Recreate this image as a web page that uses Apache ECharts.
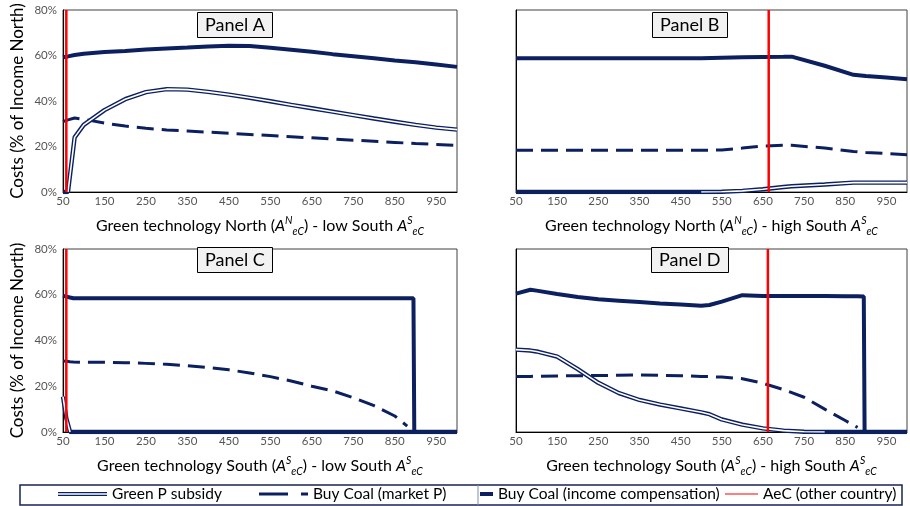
<!DOCTYPE html>
<html><head><meta charset="utf-8">
<script src="https://cdn.jsdelivr.net/npm/echarts@6.0.0/dist/echarts.min.js"></script>
<style>html,body{margin:0;padding:0;background:#fff}#c{width:910px;height:506px}</style>
</head><body><div id="c"></div>
<script>
// ---------- data ----------
const yTicks = [0, 20, 40, 60, 80];
const seriesNames = ['Green P subsidy', 'Buy Coal (market P)', 'Buy Coal (income compensation)', 'AeC (other country)'];
const panelTitles = ['Panel A', 'Panel B', 'Panel C', 'Panel D'];

// Panel A
const xA      = [50, 62, 78, 100, 150, 200, 250, 300, 350, 400, 450, 500, 550, 600, 650, 700, 750, 800, 850, 900, 950, 1000];
const greenA  = [0, 0, 24, 29.5, 36, 40.8, 43.9, 45.2, 45, 44, 42.8, 41.4, 39.9, 38.3, 36.8, 35.3, 33.8, 32.3, 30.9, 29.5, 28.3, 27.4];
const marketA = [31, 31.7, 32.5, 32, 30.3, 29, 28, 27.3, 26.8, 26.3, 25.8, 25.3, 24.8, 24.3, 23.8, 23.3, 22.8, 22.3, 21.8, 21.3, 20.9, 20.5];
const incomeA = [59.2, 59.6, 60.2, 60.8, 61.5, 62, 62.6, 63.1, 63.5, 64, 64.3, 64.2, 63.4, 62.5, 61.6, 60.6, 59.7, 58.8, 57.8, 57, 56, 55];
const aecA = 58;

// Panel B
const xB      = [50, 100, 200, 300, 400, 500, 550, 600, 650, 700, 720, 800, 870, 900, 950, 1000];
const greenB  = [0, 0, 0, 0, 0, 0, 0.1, 0.5, 1.2, 2.2, 2.5, 3.3, 4.1, 4.1, 4.1, 4.1];
const marketB = [18.3, 18.3, 18.3, 18.3, 18.3, 18.3, 18.5, 19.3, 20.2, 20.6, 20.5, 19.3, 17.8, 17.4, 16.9, 16.4];
const incomeB = [58.8, 58.8, 58.8, 58.8, 58.8, 58.8, 59, 59.2, 59.3, 59.4, 59.5, 55.5, 51.5, 51, 50.3, 49.6];
const aecB = 664;

// Panel C
const xC      = [50, 58, 67, 75, 100, 150, 200, 250, 300, 350, 400, 450, 500, 550, 600, 650, 700, 750, 800, 850, 880, 895, 897, 950, 1000];
const greenC  = [15.5, 6, 0, 0, 0, 0, 0, 0, 0, 0, 0, 0, 0, 0, 0, 0, 0, 0, 0, 0, 0, 0, 0, 0, 0];
const marketC = [31, 30.9, 30.7, 30.6, 30.5, 30.5, 30.3, 30, 29.6, 29, 28.2, 27.2, 25.8, 24.2, 22.3, 20, 18, 15, 11.5, 7, 2.6, null, null, null, null];
const incomeC = [59.5, 59.2, 58.8, 58.5, 58.5, 58.5, 58.5, 58.5, 58.5, 58.5, 58.5, 58.5, 58.5, 58.5, 58.5, 58.5, 58.5, 58.5, 58.5, 58.5, 58.5, 58.5, 0, 0, 0];
const aecC = 58;

// Panel D
const xD      = [50, 85, 100, 150, 200, 250, 300, 350, 400, 450, 500, 520, 550, 600, 650, 700, 750, 800, 850, 880, 895, 897, 950, 1000];
const greenD  = [36, 35.6, 35.2, 33, 27.5, 21.5, 17, 14, 12, 10.3, 8.6, 7.8, 5.5, 3.2, 1.6, 0.6, 0.1, 0, 0, 0, 0, 0, 0, 0];
const marketD = [24.3, 24.3, 24.4, 24.5, 24.6, 24.7, 24.8, 24.9, 24.8, 24.6, 24.3, 24.2, 24, 23.3, 21.3, 18.5, 15.2, 10, 5, 2, null, null, null, null];
const incomeD = [60.5, 62.2, 61.8, 60.3, 59, 58, 57.4, 56.8, 56.2, 55.7, 55.2, 55.5, 57, 59.8, 59.5, 59.5, 59.4, 59.4, 59.3, 59.3, 59.2, 0, 0, 0];
const aecD = 662;

const xNames = [
  'Green technology North ({it|A}{sup|N}{sub|eC}) - low South {it|A}{sup|S}{sub|eC}',
  'Green technology North ({it|A}{sup|N}{sub|eC}) - high South {it|A}{sup|S}{sub|eC}',
  'Green technology South ({it|A}{sup|S}{sub|eC}) - low South {it|A}{sup|S}{sub|eC}',
  'Green technology South ({it|A}{sup|S}{sub|eC}) - high South {it|A}{sup|S}{sub|eC}'
];
const yName = 'Costs (% of Income North)';

// ---------- styling ----------
const NAVY = '#0c2060';
const RED = '#ff0000';
const FONT = 'Lato';
const grids = [
  {left: 63, top: 10, width: 394, height: 182},
  {left: 516, top: 10, width: 393, height: 182},
  {left: 63, top: 249, width: 394, height: 183},
  {left: 516, top: 249, width: 393, height: 183}
];
const titlePos = [[197, 12], [652, 12], [197, 247], [651, 247]];

function pairs(x, y) { return x.map((v, i) => [v, y[i]]); }
// white core of the double line: dropped where the line lies flat on the zero axis
function innerOf(y) {
  return y.map((v, i) => (v === 0 && (i === 0 || y[i - 1] === 0) && (i === y.length - 1 || y[i + 1] === 0)) ? null : v);
}

const rich = {
  it: {fontStyle: 'italic', fontSize: 16, fontFamily: FONT, color: '#000', lineHeight: 22},
  sup: {fontStyle: 'italic', fontSize: 10.5, fontFamily: FONT, color: '#000', lineHeight: 12, verticalAlign: 'top'},
  sub: {fontStyle: 'italic', fontSize: 10.5, fontFamily: FONT, color: '#000', lineHeight: 12, verticalAlign: 'bottom'}
};

const xAxes = grids.map((g, i) => ({
  type: 'value', gridIndex: i, min: 50, max: 1000, interval: 50,
  axisLine: {show: true, lineStyle: {color: '#000', width: 1}},
  axisTick: {show: false}, splitLine: {show: false},
  axisLabel: {
    color: '#555555', fontSize: 11.5, fontFamily: FONT, margin: 3,
    formatter: v => ((v - 50) % 100 === 0 && v < 1000) ? String(v) : ''
  },
  name: xNames[i], nameLocation: 'middle', nameGap: 23,
  nameTextStyle: {fontSize: 16, fontFamily: FONT, color: '#000', lineHeight: 22, rich: rich}
}));

const yAxes = grids.map((g, i) => ({
  type: 'value', gridIndex: i, min: yTicks[0], max: yTicks[yTicks.length - 1], interval: 20,
  axisLine: {show: true, lineStyle: {color: '#000', width: 1}},
  axisTick: {show: false}, splitLine: {show: false},
  axisLabel: {show: i % 2 === 0, color: '#555555', fontSize: 11.5, fontFamily: FONT, margin: 6, formatter: '{value}%'},
  name: i % 2 === 0 ? yName : '', nameLocation: 'middle', nameGap: 37, nameRotate: 90,
  nameTextStyle: {fontSize: 17, fontFamily: FONT, color: '#000'}
}));

const panels = [
  [xA, greenA, marketA, incomeA, aecA],
  [xB, greenB, marketB, incomeB, aecB],
  [xC, greenC, marketC, incomeC, aecC],
  [xD, greenD, marketD, incomeD, aecD]
];

const series = [];
panels.forEach((p, i) => {
  const [x, green, market, income, aec] = p;
  const base = {type: 'line', xAxisIndex: i, yAxisIndex: i, symbol: 'none', showSymbol: false, animation: false, connectNulls: false, clip: true};
  series.push(Object.assign({}, base, {name: seriesNames[1], data: pairs(x, market), z: 2,
    itemStyle: {color: NAVY}, lineStyle: {color: NAVY, width: 3, type: [17, 8]}}));
  series.push(Object.assign({}, base, {name: seriesNames[0], data: pairs(x, green), z: 3,
    itemStyle: {color: NAVY}, lineStyle: {color: NAVY, width: 4.4}}));
  series.push(Object.assign({}, base, {name: 'green-inner', data: pairs(x, innerOf(green)), z: 4, silent: true,
    itemStyle: {color: '#fff'}, lineStyle: {color: '#ffffff', width: 1.6}}));
  series.push(Object.assign({}, base, {name: seriesNames[2], data: pairs(x, income), z: 5,
    itemStyle: {color: NAVY}, lineStyle: {color: NAVY, width: 4}}));
  series.push(Object.assign({}, base, {name: seriesNames[3], data: [[aec, yTicks[0]], [aec, yTicks[yTicks.length - 1]]], z: 6,
    itemStyle: {color: RED}, lineStyle: {color: RED, width: 2.5}}));
});

const legendText = {fontSize: 15.5, fontFamily: FONT, color: '#000'};
const legends = [
  {data: [{name: seriesNames[0], icon: 'path://M0,0H50V1.3H0ZM0,2.7H50V4H0Z'}], left: 58, itemWidth: 49, itemHeight: 4},
  {data: [{name: seriesNames[1], icon: 'path://M0,0H29V3H0ZM42,0H49V3H42Z'}], left: 259, itemWidth: 49, itemHeight: 3},
  {data: [{name: seriesNames[2], icon: 'rect'}], left: 480, itemWidth: 13, itemHeight: 4},
  {data: [{name: seriesNames[3], icon: 'rect'}], left: 725, itemWidth: 33, itemHeight: 1}
].map(l => Object.assign({top: 486, padding: 0, itemGap: 0, selectedMode: false, textStyle: legendText,
  itemStyle: {borderWidth: 0}}, l));

const titles = panelTitles.map((t, i) => ({
  text: t, left: titlePos[i][0], top: titlePos[i][1],
  backgroundColor: '#f2f2f2', borderColor: '#000', borderWidth: 1, padding: [4, 8, 4, 8],
  textStyle: {fontSize: 18, fontWeight: 'normal', fontFamily: FONT, color: '#000'}
}));

const option = {
  backgroundColor: '#fff',
  animation: false,
  title: titles,
  legend: legends,
  grid: grids.map(g => Object.assign({show: true, borderColor: '#404040', borderWidth: 1, containLabel: false}, g)),
  xAxis: xAxes,
  yAxis: yAxes,
  series: series,
  graphic: [
    {type: 'rect', shape: {x: 20, y: 485, width: 882, height: 20}, style: {fill: 'none', stroke: '#1a2550', lineWidth: 1.5}, z: 100},
    {type: 'line', shape: {x1: 478, y1: 485, x2: 478, y2: 505}, style: {stroke: '#8090b0', lineWidth: 1}, z: 100}
  ]
};

const chart = echarts.init(document.getElementById('c'), null, {renderer: 'canvas'});
chart.setOption(option);
</script>
</body></html>
